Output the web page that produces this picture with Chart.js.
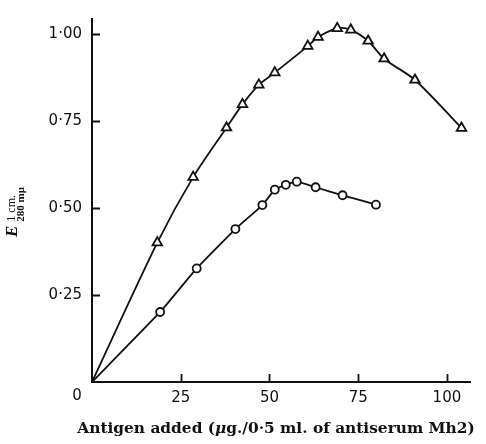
<!DOCTYPE html>
<html>
<head>
<meta charset="utf-8">
<script src="https://cdn.jsdelivr.net/npm/chart.js@4.4.1/dist/chart.umd.min.js"></script>
<style>
  html, body { margin: 0; padding: 0; background: #fff; }
  #wrap { width: 486px; height: 444px; }
</style>
</head>
<body>
<div id="wrap"><canvas id="c" width="486" height="444"></canvas></div>
<script>
// ---- Data ----
const triX = [0, 18.4, 28.5, 37.9, 42.4, 47.0, 51.5, 60.8, 63.7, 69.1, 72.9, 77.8, 82.3, 91.0, 104.1];
const triY = [0, 0.400, 0.588, 0.730, 0.797, 0.853, 0.888, 0.964, 0.990, 1.015, 1.011, 0.979, 0.928, 0.867, 0.729];

const circX = [0, 19.2, 29.5, 40.4, 48.0, 51.5, 54.6, 57.7, 63.0, 70.6, 80.0];
const circY = [0, 0.201, 0.326, 0.439, 0.508, 0.552, 0.566, 0.575, 0.559, 0.536, 0.509];

const xTickValues = [25, 50, 75, 100];
const xTickLabels = ['25', '50', '75', '100'];
const yTickValues = [0.25, 0.50, 0.75, 1.00];
const yTickLabels = ['0·25', '0·50', '0·75', '1·00'];
const originLabel = '0';

const xTitleParts = [['Antigen added (', false], ['μ', true], ['g./0·5 ml. of antiserum Mh2)', false]];
const yTitleMain = 'E';
const yTitleSup = '1 cm.';
const yTitleSub = '280 mμ';

const INK = '#111';
const TICK_FONT = '"DejaVu Sans", "Liberation Sans", sans-serif';
const SERIF = '"DejaVu Serif", "Liberation Serif", serif';
const SERIF2 = '"Liberation Serif", "Times New Roman", serif';

const toPts = (xs, ys) => xs.map((x, i) => ({ x: x, y: ys[i] }));

const decor = {
  id: 'decor',
  afterDraw(chart) {
    const ctx = chart.ctx;
    const xs = chart.scales.x, ys = chart.scales.y;
    const ca = chart.chartArea;
    ctx.save();
    // inward ticks
    ctx.strokeStyle = INK;
    ctx.lineWidth = 1.8;
    ctx.beginPath();
    xTickValues.forEach(v => {
      const px = Math.round(xs.getPixelForValue(v)) + 0.5;
      ctx.moveTo(px, ca.bottom);
      ctx.lineTo(px, ca.bottom - 8);
    });
    yTickValues.forEach(v => {
      const py = Math.round(ys.getPixelForValue(v)) + 0.5;
      ctx.moveTo(ca.left, py);
      ctx.lineTo(ca.left + 8, py);
    });
    ctx.stroke();

    // shared origin label
    ctx.fillStyle = INK;
    ctx.font = '15px ' + TICK_FONT;
    ctx.textAlign = 'center';
    ctx.textBaseline = 'top';
    ctx.fillText(originLabel, xs.getPixelForValue(0) - 15, ca.bottom + 7);

    // x title, fitted to the reference width
    ctx.textBaseline = 'alphabetic';
    ctx.textAlign = 'left';
    const fontFor = (it, sz) => (it ? 'italic bold ' : 'bold ') + sz + 'px ' + SERIF;
    const widthAt = sz => {
      let t = 0;
      xTitleParts.forEach(([s, it]) => { ctx.font = fontFor(it, sz); t += ctx.measureText(s).width; });
      return t;
    };
    const size = 16 * 398 / widthAt(16);
    const total = widthAt(size);
    let x0 = 276 - total / 2;
    xTitleParts.forEach(([t, it]) => {
      ctx.font = fontFor(it, size);
      ctx.fillText(t, x0, 433);
      x0 += ctx.measureText(t).width;
    });

    // y title (rotated)
    ctx.translate(17, 237);
    ctx.rotate(-Math.PI / 2);
    ctx.font = 'italic bold 17px ' + SERIF2;
    ctx.fillText(yTitleMain, 0, 0);
    const ew = ctx.measureText(yTitleMain).width + 4;
    ctx.font = '12px ' + SERIF2;
    ctx.fillText(yTitleSup, ew, -2);
    ctx.font = 'bold 11px ' + SERIF2;
    ctx.fillText(yTitleSub, ew, 7);
    ctx.restore();
  }
};

new Chart(document.getElementById('c'), {
  type: 'scatter',
  data: {
    datasets: [
      {
        data: toPts(triX, triY),
        showLine: true,
        borderColor: INK,
        borderWidth: 1.8,
        tension: 0.3,
        pointStyle: 'triangle',
        pointRadius: c => (c.dataIndex === 0 ? 0 : 5.5),
        pointBorderWidth: 1.8,
        pointBorderColor: INK,
        pointBackgroundColor: '#fff',
        clip: false
      },
      {
        data: toPts(circX, circY),
        showLine: true,
        borderColor: INK,
        borderWidth: 1.8,
        tension: 0.15,
        pointStyle: 'circle',
        pointRadius: c => (c.dataIndex === 0 ? 0 : 4),
        pointBorderWidth: 1.8,
        pointBorderColor: INK,
        pointBackgroundColor: '#fff',
        clip: false
      }
    ]
  },
  options: {
    responsive: false,
    devicePixelRatio: 1,
    animation: false,
    layout: { padding: { left: 0, right: 16, top: 13, bottom: 0 } },
    plugins: { legend: { display: false }, tooltip: { enabled: false } },
    scales: {
      x: {
        type: 'linear',
        min: 0,
        max: 106.5,
        afterBuildTicks: s => { s.ticks = xTickValues.map(v => ({ value: v })); },
        afterFit: s => { s.height = 62; },
        ticks: {
          callback: (v, i) => xTickLabels[i],
          font: { family: TICK_FONT, size: 15 },
          color: INK,
          padding: 7,
          maxRotation: 0,
          autoSkip: false
        },
        grid: { display: true, drawOnChartArea: false, drawTicks: false },
        border: { display: true, color: INK, width: 2 }
      },
      y: {
        type: 'linear',
        min: 0,
        max: 1.042,
        afterBuildTicks: s => { s.ticks = yTickValues.map(v => ({ value: v })); },
        afterFit: s => { s.width = 92; },
        ticks: {
          callback: (v, i) => yTickLabels[i],
          font: { family: TICK_FONT, size: 15 },
          color: INK,
          padding: 10,
          autoSkip: false
        },
        grid: { display: true, drawOnChartArea: false, drawTicks: false },
        border: { display: true, color: INK, width: 2 }
      }
    }
  },
  plugins: [decor]
});
</script>
</body>
</html>
